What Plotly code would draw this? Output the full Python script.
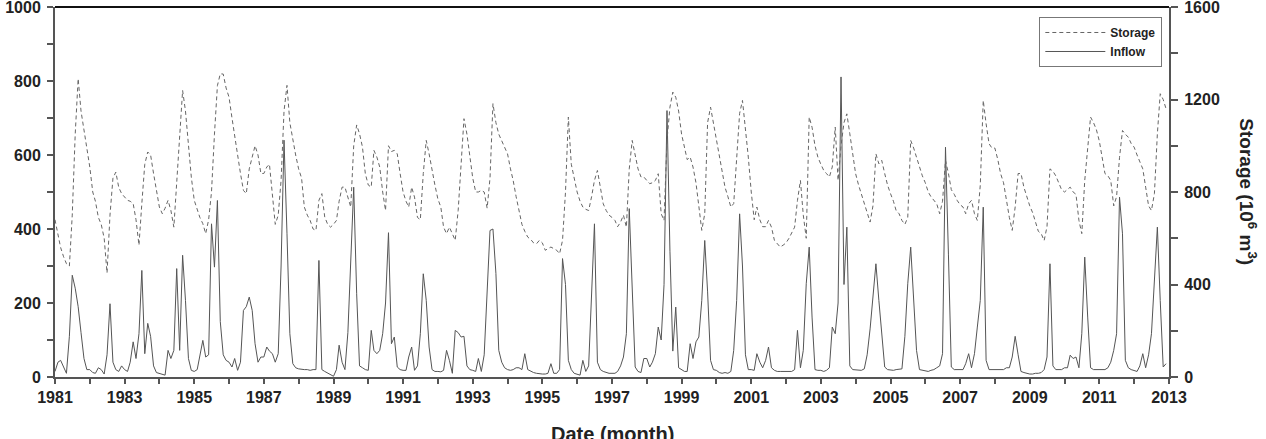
import pandas as pd
import plotly.graph_objects as go

# Monthly inflow (left axis), Jan 1981 - Dec 2012, one row per year
inflow = [
    15, 40, 45, 25, 10, 110, 275, 240, 190, 120, 50, 20,      # 1981
    20, 12, 10, 25, 20, 8, 60, 198, 40, 20, 15, 30,           # 1982
    20, 15, 40, 95, 50, 117, 288, 63, 145, 110, 30, 12,       # 1983
    10, 8, 5, 72, 50, 72, 293, 72, 329, 207, 50, 18,          # 1984
    15, 20, 54, 99, 54, 60, 414, 297, 477, 150, 60, 45,       # 1985
    40, 27, 50, 18, 40, 180, 190, 216, 180, 90, 40, 54,       # 1986
    54, 81, 70, 63, 40, 63, 300, 640, 387, 117, 36, 25,       # 1987
    22, 20, 20, 20, 18, 20, 20, 315, 20, 15, 10, 5,           # 1988
    2, 20, 86, 40, 20, 120, 300, 513, 225, 30, 25, 20,        # 1989
    18, 126, 72, 63, 72, 117, 200, 390, 90, 108, 27, 20,      # 1990
    18, 18, 54, 81, 18, 30, 117, 279, 207, 81, 20, 15,        # 1991
    15, 14, 18, 72, 45, 10, 126, 120, 108, 110, 30, 20,       # 1992
    18, 15, 50, 15, 60, 230, 396, 400, 280, 72, 40, 25,       # 1993
    20, 18, 20, 25, 25, 20, 63, 20, 15, 12, 10, 8,            # 1994
    8, 8, 10, 36, 10, 10, 20, 320, 250, 45, 20, 10,           # 1995
    8, 5, 45, 15, 30, 207, 414, 40, 20, 15, 12, 10,           # 1996
    10, 10, 15, 30, 54, 117, 455, 220, 27, 15, 12, 50,        # 1997
    50, 27, 40, 63, 135, 100, 250, 720, 340, 70, 189, 25,     # 1998
    20, 15, 15, 90, 50, 95, 108, 207, 369, 230, 45, 20,       # 1999
    18, 12, 10, 12, 10, 15, 72, 207, 441, 300, 60, 20,        # 2000
    20, 18, 63, 40, 25, 45, 81, 25, 18, 15, 15, 15,           # 2001
    15, 15, 15, 20, 126, 25, 72, 252, 351, 162, 20, 18,       # 2002
    18, 15, 18, 25, 135, 117, 200, 811, 250, 405, 30, 20,     # 2003
    20, 18, 18, 22, 60, 130, 220, 306, 207, 110, 27, 20,      # 2004
    18, 18, 20, 20, 22, 110, 252, 351, 220, 72, 20, 18,       # 2005
    18, 15, 18, 20, 25, 30, 63, 621, 330, 27, 20, 20,         # 2006
    20, 20, 36, 63, 25, 63, 135, 207, 459, 45, 20, 20,        # 2007
    20, 18, 20, 20, 25, 25, 54, 110, 60, 15, 12, 10,          # 2008
    8, 8, 10, 10, 12, 20, 54, 306, 30, 20, 20, 20,            # 2009
    25, 25, 59, 50, 54, 25, 117, 324, 162, 25, 20, 20,        # 2010
    20, 20, 20, 25, 40, 72, 117, 486, 387, 45, 25, 20,        # 2011
    18, 15, 30, 63, 25, 60, 117, 279, 405, 207, 27, 36,       # 2012
]

# Monthly storage (10^6 m^3, right axis), Jan 1981 - Dec 2012
storage = [
    680, 610, 560, 520, 490, 480, 700, 1050, 1290, 1150, 1070, 980,    # 1981
    908, 800, 760, 690, 660, 600, 450, 700, 860, 886, 820, 793,        # 1982
    780, 764, 760, 750, 680, 570, 750, 920, 973, 960, 880, 800,        # 1983
    735, 706, 730, 764, 720, 648, 850, 1050, 1239, 1150, 1000, 865,    # 1984
    764, 720, 690, 663, 620, 680, 800, 1050, 1260, 1311, 1310, 1250,   # 1985
    1210, 1120, 1052, 960, 880, 807, 793, 900, 951, 1000, 960, 880,    # 1986
    880, 908, 920, 800, 660, 700, 850, 1150, 1261, 1100, 1020, 960,    # 1987
    900, 860, 735, 700, 677, 640, 634, 764, 793, 692, 660, 648,        # 1988
    660, 677, 760, 821, 821, 780, 735, 1000, 1090, 1052, 994, 879,     # 1989
    830, 821, 980, 951, 908, 800, 720, 1000, 975, 980, 965, 880,       # 1990
    800, 760, 735, 821, 778, 690, 680, 880, 1023, 965, 890, 830,       # 1991
    770, 735, 648, 620, 648, 620, 591, 720, 900, 1117, 1050, 950,      # 1992
    860, 800, 800, 807, 800, 730, 860, 1182, 1100, 1050, 1023, 990,    # 1993
    965, 900, 850, 780, 720, 660, 630, 605, 595, 580, 576, 591,        # 1994
    580, 548, 555, 562, 555, 548, 533, 591, 800, 1124, 920, 860,       # 1995
    800, 760, 735, 725, 720, 780, 850, 893, 821, 749, 720, 700,        # 1996
    690, 677, 650, 670, 700, 648, 900, 1023, 960, 900, 865, 865,       # 1997
    850, 836, 840, 850, 879, 706, 677, 1023, 1167, 1232, 1210, 1150,   # 1998
    1050, 990, 940, 951, 908, 840, 735, 634, 706, 1100, 1167, 1100,    # 1999
    1030, 960, 880, 820, 780, 735, 750, 960, 1140, 1196, 1081, 951,    # 2000
    800, 680, 735, 680, 650, 650, 677, 648, 591, 576, 562, 570,        # 2001
    580, 600, 620, 648, 764, 850, 700, 600, 1124, 1080, 1000, 951,     # 2002
    920, 893, 880, 865, 908, 1081, 850, 1000, 1100, 1138, 1052, 965,   # 2003
    879, 830, 793, 750, 720, 670, 740, 965, 922, 937, 880, 830,        # 2004
    793, 760, 720, 706, 677, 660, 690, 1023, 990, 950, 908, 870,       # 2005
    840, 800, 780, 764, 749, 706, 760, 937, 880, 810, 790, 764,        # 2006
    745, 735, 706, 749, 764, 706, 677, 830, 1196, 1095, 1009, 990,     # 2007
    990, 940, 880, 840, 764, 690, 634, 735, 880, 880, 820, 778,        # 2008
    740, 710, 670, 630, 620, 590, 650, 900, 890, 870, 840, 810,        # 2009
    800, 810, 821, 800, 790, 677, 620, 850, 1010, 1124, 1100, 1070,    # 2010
    1020, 951, 880, 870, 850, 740, 780, 950, 1066, 1050, 1037, 1010,   # 2011
    994, 960, 930, 900, 821, 740, 720, 793, 1052, 1225, 1200, 1160,    # 2012
]

years = list(range(1981, 2014))
left_ticks = list(range(0, 1001, 100))
right_ticks = list(range(0, 1601, 200))

months = pd.date_range("1981-01-01", periods=len(inflow), freq="MS")

FONT = "Liberation Sans, Arial, sans-serif"
AX = "#555555"
TXT = "#222222"
TICKFONT = dict(size=16, family=FONT, color=TXT)

fig = go.Figure()
fig.add_trace(go.Scatter(
    x=months, y=storage, name="<b>Storage</b>", yaxis="y2", mode="lines",
    line=dict(color="#666666", width=1, dash="4px,3px"),
))
fig.add_trace(go.Scatter(
    x=months, y=inflow, name="<b>Inflow</b>", mode="lines",
    line=dict(color="#555555", width=1),
))

fig.update_layout(
    width=1266, height=439,
    margin=dict(l=55, r=97, t=7, b=62, autoexpand=False),
    paper_bgcolor="white", plot_bgcolor="white",
    font=dict(family=FONT, color=TXT),
    showlegend=True,
    legend=dict(
        x=0.994, y=0.973, xanchor="right", yanchor="top",
        bordercolor="#777777", borderwidth=1, bgcolor="white",
        font=dict(size=12, family=FONT, color=TXT),
        tracegroupgap=0, itemwidth=60,
    ),
    xaxis=dict(
        type="date", automargin=False,
        range=["1981-01-01", "2013-01-01"],
        tickvals=[f"{y}-01-01" for y in years],
        ticktext=[f"<b>{y}</b>" if y % 2 == 1 else "" for y in years],
        ticks="outside", ticklen=5, tickwidth=1.5, tickcolor=AX,
        showline=True, linecolor=AX, linewidth=2,
        showgrid=False, zeroline=False,
        tickfont=TICKFONT, ticklabeloverflow="allow",
    ),
    yaxis=dict(
        range=[0, 1000], automargin=False,
        tickvals=left_ticks,
        ticktext=[f"<b>{v}</b>" if v % 200 == 0 else "" for v in left_ticks],
        ticks="outside", ticklen=6, tickwidth=1.5, tickcolor=AX,
        showline=True, linecolor=AX, linewidth=2,
        showgrid=False, zeroline=False,
        tickfont=TICKFONT, ticklabeloverflow="allow", ticklabelstandoff=3,
    ),
    yaxis2=dict(
        range=[0, 1600], overlaying="y", side="right", automargin=False,
        tickvals=right_ticks,
        ticktext=[f"<b>{v}</b>" if v % 400 == 0 else "" for v in right_ticks],
        ticks="outside", ticklen=7, tickwidth=1.5, tickcolor=AX,
        showline=True, linecolor=AX, linewidth=2,
        showgrid=False, zeroline=False,
        tickfont=TICKFONT, ticklabeloverflow="allow", ticklabelstandoff=3,
    ),
    shapes=[dict(type="line", xref="paper", yref="paper", x0=0, x1=1, y0=1, y1=1,
                 line=dict(color="#111111", width=2))],
    annotations=[
        dict(text="<b>Storage (10<sup>6</sup> m<sup>3</sup>)</b>", xref="paper", yref="paper",
             x=1.0706, y=0.5, xanchor="center", yanchor="middle",
             textangle=90, showarrow=False,
             font=dict(size=19, family=FONT, color=TXT)),
        dict(text="<b>Date (month)</b>", xref="paper", yref="paper",
             x=0.5, y=-0.154, yanchor="middle", showarrow=False,
             font=dict(size=20, family=FONT, color=TXT)),
    ],
)

fig.write_html("out.html")
